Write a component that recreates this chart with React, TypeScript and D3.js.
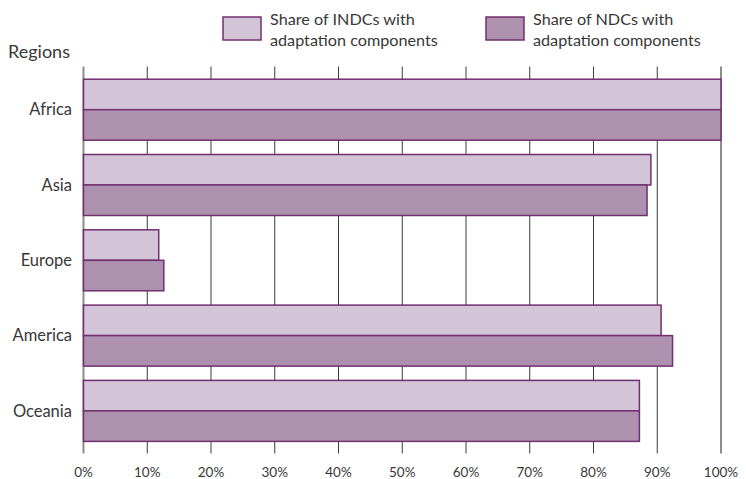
import React from "react";
import * as d3 from "d3";

const regions = ["Africa", "Asia", "Europe", "America", "Oceania"];
const indcShare = [100, 89.0, 11.8, 90.6, 87.2];
const ndcShare = [100, 88.4, 12.6, 92.4, 87.2];
const xTicks = [0, 10, 20, 30, 40, 50, 60, 70, 80, 90, 100];
const legendLabels = [
  ["Share of INDCs with", "adaptation components"],
  ["Share of NDCs with", "adaptation components"],
];

const W = 746;
const H = 479;
const FONT = "Lato, 'Open Sans', sans-serif";
const FILL1 = "#d3c4d7";
const FILL2 = "#ae91ae";
const STROKE = "#71306f";
const TEXT = "#383838";

export default function App() {
  const x = d3.scaleLinear().domain([0, 100]).range([83.5, 721]);
  const y = d3
    .scaleBand<string>()
    .domain(regions)
    .range([72.05, 448.55])
    .paddingInner(0.19)
    .paddingOuter(0.095);
  const bw = y.bandwidth();
  const half = bw / 2;

  return (
    <svg
      width={W}
      height={H}
      style={{ position: "absolute", left: 0, top: 0, background: "#fff" }}
      fontFamily={FONT}
    >
      {/* legend */}
      {legendLabels.map((lines, i) => {
        const bx = i === 0 ? 223 : 486;
        return (
          <g key={i}>
            <rect
              x={bx}
              y={17}
              width={38}
              height={23}
              fill={i === 0 ? FILL1 : FILL2}
              stroke={STROKE}
              strokeWidth={1.5}
            />
            {lines.map((t, j) => (
              <text
                key={j}
                x={bx + 47}
                y={25 + j * 21}
                fontSize={16.2}
                fill={TEXT}
              >
                {t}
              </text>
            ))}
          </g>
        );
      })}

      <text x={8} y={58} fontSize={18} fill={TEXT}>
        Regions
      </text>

      {/* grid */}
      {xTicks.map((t) => (
        <line
          key={t}
          x1={x(t)}
          x2={x(t)}
          y1={66.5}
          y2={453.5}
          stroke={t === 0 || t === 100 ? "#8c8c8c" : "#3a3a3a"}
          strokeWidth={t === 0 || t === 100 ? 2 : 1}
        />
      ))}

      {/* bars */}
      {regions.map((r, i) => {
        const y0 = y(r)!;
        return (
          <g key={r}>
            <rect
              x={x(0)}
              y={y0}
              width={x(indcShare[i]) - x(0)}
              height={half}
              fill={FILL1}
              stroke={STROKE}
              strokeWidth={1.5}
            />
            <rect
              x={x(0)}
              y={y0 + half}
              width={x(ndcShare[i]) - x(0)}
              height={half}
              fill={FILL2}
              stroke={STROKE}
              strokeWidth={1.5}
            />
            <text
              x={72}
              y={y0 + half}
              dy="0.35em"
              textAnchor="end"
              fontSize={16.5}
              fill={TEXT}
            >
              {r}
            </text>
          </g>
        );
      })}

      {/* x tick labels */}
      {xTicks.map((t) => (
        <text
          key={t}
          x={x(t)}
          y={477}
          textAnchor="middle"
          fontSize={13.5}
          fill={TEXT}
        >
          {t}%
        </text>
      ))}
    </svg>
  );
}
